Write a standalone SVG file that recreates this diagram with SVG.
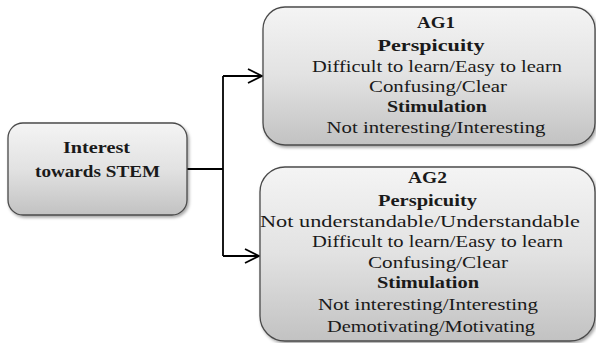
<svg xmlns="http://www.w3.org/2000/svg" width="596" height="343" viewBox="0 0 596 343">
<style>
.box{fill:url(#g);stroke:#4a4a4a;stroke-width:1.3;filter:url(#sh)}
.t{font-family:"Liberation Serif","Times New Roman",serif;font-size:17px;fill:#1a1a1a;text-anchor:middle}
.b{font-weight:bold}
.conn{fill:none;stroke:#000;stroke-width:1.8}
</style>
<defs>
<linearGradient id="g" x1="0" y1="0" x2="0" y2="1">
<stop offset="0" stop-color="#f4f4f4"/>
<stop offset="0.5" stop-color="#e2e2e2"/>
<stop offset="1" stop-color="#c2c2c2"/>
</linearGradient>
<filter id="sh" x="-5%" y="-5%" width="115%" height="115%">
<feDropShadow dx="1.5" dy="2" stdDeviation="1.5" flood-color="#000" flood-opacity="0.35"/>
</filter>
<marker id="arr" viewBox="0 0 16 16" refX="15" refY="8" markerWidth="16" markerHeight="16" markerUnits="userSpaceOnUse" orient="auto">
<path d="M1,1 L15,8 L1,15" fill="none" stroke="#000" stroke-width="1.8"/>
</marker>
</defs>
<rect width="596" height="343" fill="#fff"/>
<g id="connectors">
<path class="conn" d="M187,169 H223"/>
<path class="conn" d="M223,76 V256"/>
<path class="conn" d="M223,76 H262" marker-end="url(#arr)"/>
<path class="conn" d="M223,256 H259" marker-end="url(#arr)"/>
</g>
<g id="interest">
<rect class="box" x="8" y="123" width="179" height="92" rx="15"/>
<text class="t b" x="96.5" y="153" textLength="67" lengthAdjust="spacingAndGlyphs">Interest</text>
<text class="t b" x="97.5" y="177" textLength="125" lengthAdjust="spacingAndGlyphs">towards STEM</text>
</g>
<g id="ag1">
<rect class="box" x="263" y="7" width="332" height="138" rx="22"/>
<text class="t b" x="436" y="28.3" textLength="38" lengthAdjust="spacingAndGlyphs">AG1</text>
<text class="t b" x="431" y="50.5" textLength="107" lengthAdjust="spacingAndGlyphs">Perspicuity</text>
<text class="t" x="437" y="71.7" textLength="250" lengthAdjust="spacingAndGlyphs">Difficult to learn/Easy to learn</text>
<text class="t" x="438" y="91.7" textLength="138" lengthAdjust="spacingAndGlyphs">Confusing/Clear</text>
<text class="t b" x="437" y="111.7" textLength="100" lengthAdjust="spacingAndGlyphs">Stimulation</text>
<text class="t" x="436" y="133" textLength="219" lengthAdjust="spacingAndGlyphs">Not interesting/Interesting</text>
</g>
<g id="ag2">
<rect class="box" x="260" y="167" width="335" height="174" rx="25"/>
<text class="t b" x="427.5" y="182.7" textLength="39" lengthAdjust="spacingAndGlyphs">AG2</text>
<text class="t b" x="427.5" y="205.7" textLength="99" lengthAdjust="spacingAndGlyphs">Perspicuity</text>
<text class="t" x="420" y="226.7" textLength="320" lengthAdjust="spacingAndGlyphs">Not understandable/Understandable</text>
<text class="t" x="437.5" y="247.3" textLength="251" lengthAdjust="spacingAndGlyphs">Difficult to learn/Easy to learn</text>
<text class="t" x="438" y="268.3" textLength="140" lengthAdjust="spacingAndGlyphs">Confusing/Clear</text>
<text class="t b" x="428" y="288.3" textLength="102" lengthAdjust="spacingAndGlyphs">Stimulation</text>
<text class="t" x="428" y="310" textLength="220" lengthAdjust="spacingAndGlyphs">Not interesting/Interesting</text>
<text class="t" x="431" y="331.7" textLength="208" lengthAdjust="spacingAndGlyphs">Demotivating/Motivating</text>
</g>
</svg>
